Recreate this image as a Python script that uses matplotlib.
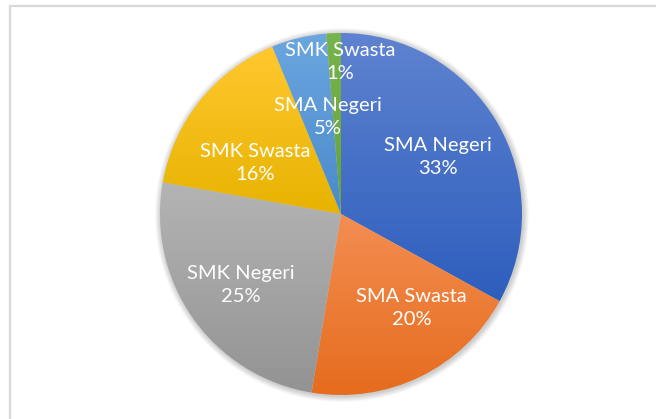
import numpy as np
import matplotlib
matplotlib.use("Agg")
import matplotlib.pyplot as plt
from matplotlib.colors import LinearSegmentedColormap
from matplotlib.patches import Rectangle, Circle

categories = ["SMA Negeri", "SMA Swasta", "SMK Negeri", "SMK Swasta", "SMA Negeri", "SMK Swasta"]
values = [33.0, 19.6, 25.2, 16.0, 4.9, 1.3]
percent_labels = ["33%", "20%", "25%", "16%", "5%", "1%"]
top_colors = ["#5F83D0", "#F38E52", "#B4B4B4", "#FFC830", "#6BA6DF", "#78B44E"]
bottom_colors = ["#2D5EBD", "#E66B1C", "#939393", "#E7B300", "#4A8ACB", "#65A23C"]
# label placement: (radius fraction, angle offset from wedge middle in degrees)
label_pos = [(0.62, 0), (0.65, 11), (0.68, 0), (0.55, 8), (0.54, -6), (0.84, -2)]

W, H = 656, 419
fig = plt.figure(figsize=(W / 100, H / 100), dpi=100)
ax = fig.add_axes([0, 0, 1, 1])

# chart frame
ax.add_patch(Rectangle((9.5, -5), W + 10, H - 1, fill=False, edgecolor="#D9D9D9", lw=1.6))

cx, cy, R = 341, 205, 181

# soft shadow
for i in range(10):
    ax.add_patch(Circle((cx + 1, cy - 1), R + 6 - i * 0.6, color="#000000", alpha=0.018, lw=0, zorder=1))

wedges, _ = ax.pie(values, startangle=90, counterclock=False, center=(cx, cy), radius=R,
                   frame=True, wedgeprops=dict(linewidth=0))

for w, c1, c2 in zip(wedges, top_colors, bottom_colors):
    w.set_facecolor("none")
    w.set_zorder(3)
    verts = w.get_path().vertices
    x0, x1 = verts[:, 0].min(), verts[:, 0].max()
    y0, y1 = verts[:, 1].min(), verts[:, 1].max()
    cmap = LinearSegmentedColormap.from_list("g", [c2, c1])
    grad = np.linspace(0, 1, 256).reshape(-1, 1)
    im = ax.imshow(grad, extent=(x0 - 1, x1 + 1, y0 - 1, y1 + 1), origin="lower", cmap=cmap,
                   aspect="auto", zorder=2, interpolation="bilinear")
    im.set_clip_path(w)

ax.set_xlim(0, W)
ax.set_ylim(0, H)
ax.set_aspect("equal")
ax.axis("off")

for w, name, pct, (rf, da) in zip(wedges, categories, percent_labels, label_pos):
    mid = np.deg2rad((w.theta1 + w.theta2) / 2 + da)
    x = cx + rf * R * np.cos(mid)
    y = cy + rf * R * np.sin(mid)
    ax.text(x, y, f"{name}\n{pct}", ha="center", va="center", color="white",
            fontsize=14.5, family=["Lato", "DejaVu Sans"], linespacing=1.45, zorder=5)

fig.savefig("out.png", dpi=100)
